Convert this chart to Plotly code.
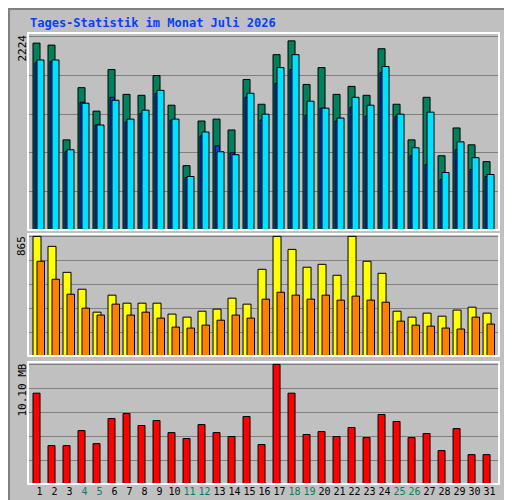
import plotly.graph_objects as go

days = list(range(1, 32))
weekend = [4, 5, 11, 12, 18, 19, 25, 26]

# Anfragen / Seiten / Dateien
hits = [2152, 2129, 1038, 1639, 1369, 1848, 1562, 1551, 1779, 1437, 741, 1255, 1277, 1152, 1733, 1448,
        2019, 2178, 1676, 1870, 1562, 1654, 1551, 2087, 1448, 1038, 1528, 855, 1175, 981, 787]
pages = [1927, 1939, 901, 1471, 1209, 1528, 1243, 1346, 1574, 1266, 604, 1084, 969, 890, 1528, 1266,
         1688, 1848, 1323, 1403, 1255, 1414, 1312, 1813, 1312, 855, 753, 581, 924, 696, 616]
files = [1958, 1958, 924, 1460, 1209, 1494, 1277, 1380, 1608, 1277, 616, 1129, 901, 867, 1574, 1334,
         1870, 2019, 1483, 1403, 1289, 1528, 1437, 1882, 1334, 947, 1357, 662, 1015, 833, 639]
# Besuche / Rechner
visits = [865, 793, 605, 483, 317, 440, 382, 382, 382, 303, 281, 324, 339, 418, 375, 627,
          865, 771, 642, 663, 584, 865, 685, 598, 324, 281, 310, 288, 332, 353, 310]
hosts = [685, 555, 447, 346, 296, 375, 296, 317, 274, 209, 202, 223, 259, 296, 274, 411,
         461, 440, 411, 440, 404, 433, 404, 389, 252, 223, 216, 202, 195, 281, 231]
# Volumen in MB
volume = [7.67, 3.24, 3.24, 4.51, 3.41, 5.53, 5.95, 4.94, 5.36, 4.34, 3.84, 5.02, 4.34, 4.01, 5.70, 3.33,
          10.10, 7.67, 4.18, 4.43, 4.01, 4.77, 3.92, 5.87, 5.28, 3.92, 4.26, 2.82, 4.68, 2.48, 2.48]

GREEN = "#00805C"
BLUE = "#0040FF"
CYAN = "#00E0FF"
YELLOW = "#FFFF00"
ORANGE = "#FF8000"
RED = "#FF0000"
BG = "#C0C0C0"
FONT = "DejaVu Sans Mono"


def bars(y, color, off, w, ax):
    return go.Bar(x=days, y=y, offset=off, width=w, marker=dict(color=color, line=dict(color="black", width=1)),
                  xaxis="x" + ax, yaxis="y" + ax, showlegend=False, hoverinfo="skip")


fig = go.Figure()
fig.add_trace(bars(hits, GREEN, -0.333, 0.467, ""))
fig.add_trace(bars(pages, BLUE, -0.2, 0.3, ""))
fig.add_trace(bars(files, CYAN, -0.067, 0.467, ""))
fig.add_trace(bars(visits, YELLOW, -0.333, 0.533, "2"))
fig.add_trace(bars(hosts, ORANGE, -0.067, 0.5, "2"))
fig.add_trace(bars(volume, RED, -0.333, 0.467, "3"))

xr = [0.333, 31.73]
xd = [20 / 512, 491 / 512]
gridc = "#808080"


def yax(dom, top):
    return dict(domain=dom, range=[0, top * 1.02], tick0=0, dtick=top / 5, showgrid=True, gridcolor=gridc,
                gridwidth=1, showticklabels=False, zeroline=False, fixedrange=True)


ticktext = ['<span style="color:%s">%d</span>' % (GREEN if d in weekend else "black", d) for d in days]

fig.update_layout(
    width=512, height=500, margin=dict(l=0, r=0, t=0, b=0),
    paper_bgcolor=BG, plot_bgcolor=BG, barmode="overlay",
    font=dict(family=FONT, size=11, color="black"),
    xaxis=dict(domain=xd, range=xr, showticklabels=False, showgrid=False, zeroline=False, anchor="y"),
    xaxis2=dict(domain=xd, range=xr, showticklabels=False, showgrid=False, zeroline=False, anchor="y2"),
    xaxis3=dict(domain=xd, range=xr, showgrid=False, zeroline=False, anchor="y3", tickangle=0,
                automargin=False, tickvals=[d + 0.1 for d in days], ticktext=ticktext, ticks="",
                tickfont=dict(size=10)),
    yaxis=yax([0.556, 0.95], 2224),
    yaxis2=yax([0.304, 0.548], 865),
    yaxis3=yax([0.048, 0.292], 10.10),
)

# panel frames
for y0, y1 in [(0.556, 0.95), (0.304, 0.548), (0.048, 0.292)]:
    fig.add_shape(type="rect", xref="paper", yref="paper", x0=xd[0], x1=xd[1], y0=y0, y1=y1,
                  line=dict(color="white", width=2), layer="above")
fig.add_shape(type="rect", xref="paper", yref="paper", x0=0.002, x1=0.998, y0=0.002, y1=0.998,
              line=dict(color="#808080", width=2))

fig.add_annotation(text="<b>Tages-Statistik im Monat Juli 2026</b>", xref="paper", yref="paper",
                   x=20 / 512, y=1 - 15 / 500, xanchor="left", yanchor="middle", showarrow=False,
                   font=dict(size=12, color=BLUE, family=FONT))

for label, ytop in [("2224", 25), ("865", 226), ("10.10 MB", 354)]:
    fig.add_annotation(text=label, xref="paper", yref="paper", x=14 / 512, y=1 - ytop / 500,
                       xanchor="center", yanchor="top", textangle=-90, showarrow=False,
                       font=dict(size=11, color="black", family=FONT))

parts = [("Volumen", RED), ("Vol. In", BLUE), ("Vol. Out", GREEN), ("Rechner", ORANGE),
         ("Besuche", YELLOW), ("Seiten", CYAN), ("Dateien", BLUE), ("Anfragen", GREEN)]
side = ' <span style="color:#404040">/</span> '.join('<span style="color:%s">%s</span>' % (c, t) for t, c in parts)
fig.add_annotation(text=side, xref="paper", yref="paper", x=501 / 512, y=1 - 264 / 500,
                   xanchor="center", yanchor="middle", textangle=-90, showarrow=False,
                   font=dict(size=10, family=FONT))

fig.write_html("out.html")
